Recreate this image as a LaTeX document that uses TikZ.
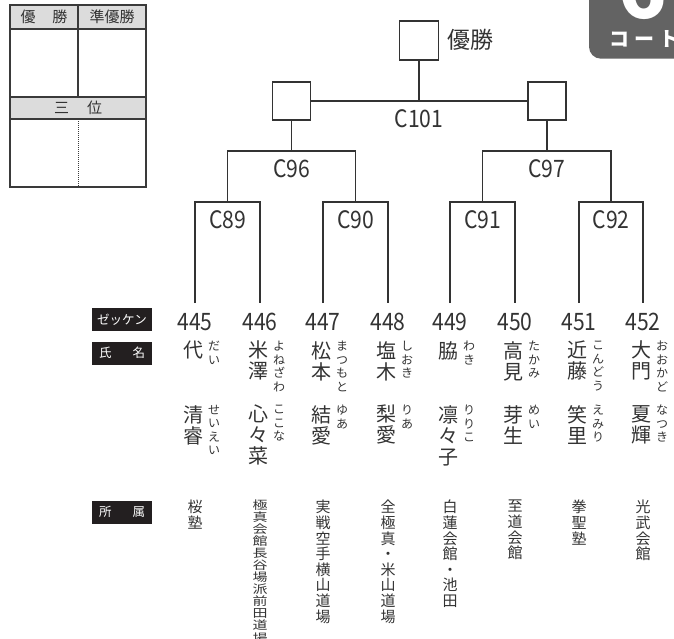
\documentclass[tikz,border=0pt]{standalone}
\usepackage{fontspec}
\setmainfont{Noto Sans CJK JP}
\usepackage{xcolor}
\usetikzlibrary{positioning}
\definecolor{ink}{HTML}{333333}
\definecolor{frame}{HTML}{3A3A3A}
\definecolor{headgray}{HTML}{DCDCDC}
\definecolor{badgegray}{HTML}{636363}
\definecolor{tagblack}{HTML}{231F20}

\begin{document}
\begin{tikzpicture}[x=1pt, y=-1pt,
  line/.style={ink, line width=1.8},
  matchbox/.style={draw=ink, line width=1.8, minimum size=38, inner sep=0},
  code/.style={text=ink, inner sep=0, xscale=0.88, font=\fontsize{24}{24}\selectfont},
  kanji/.style={text=ink, inner sep=0, align=center, anchor=north, font=\fontsize{20}{21}\selectfont},
  yomi/.style={text=ink, inner sep=0, align=center, anchor=north west, font=\fontsize{12}{13.5}\selectfont},
  club/.style={text=ink, inner sep=0, align=center, anchor=north, font=\fontsize{15}{15.6}\selectfont},
  tag/.style={fill=tagblack, text=white, inner sep=0, minimum width=60, minimum height=23, font=\fontsize{12.5}{12.5}\selectfont},
  cell/.style={text=ink, inner sep=0, font=\fontsize{15}{15}\selectfont}]

\useasboundingbox (0,0) rectangle (674,638);
\clip (0,0) rectangle (674,638);

% result table
\fill[headgray] (10,5) rectangle (146,29);
\fill[headgray] (10,97) rectangle (146,119);
\draw[frame, line width=1.4] (10,5) rectangle (146,187);
\draw[frame, line width=1.4] (10,29) -- (146,29);
\draw[frame, line width=1.4] (10,97) -- (146,97);
\draw[frame, line width=1.4] (10,119) -- (146,119);
\draw[frame, line width=1.4] (78,5) -- (78,97);
\draw[frame, line width=1, densely dotted] (78,119) -- (78,187);
\node[cell] (first) at (44,17) {優\hspace{17pt}勝};
\node[cell] (second) at (112,17) {準優勝};
\node[cell] (third) at (78,108) {三\hspace{18pt}位};

% court badge
\fill[badgegray, rounded corners=12] (589,-30) rectangle (700,58.7);
\node[text=white, inner sep=0, anchor=base, font=\bfseries\fontsize{80}{80}\selectfont] (courtno) at (643,18) {6};
\node[text=white, inner sep=0, anchor=west, font=\bfseries\fontsize{20}{20}\selectfont] (court) at (609,39) {コ\hspace{5pt}ー\hspace{5pt}ト};

% row labels
\node[tag] (tagnum) at (122,319.5) {ゼッケン};
\node[tag] (tagname) at (122,353) {氏\hspace{21pt}名};
\node[tag] (tagclub) at (122,512) {所\hspace{21pt}属};

% players
\foreach \x/\num/\sei/\seiyomi/\mei/\meiyomi/\club/\cs in {
  195/445/{代}/{だ\\い}/{清\\睿}/{せ\\い\\え\\い}/{桜\\塾}/1,
  260/446/{米\\澤}/{よ\\ね\\ざ\\わ}/{心\\々\\菜}/{こ\\こ\\な}/{極\\真\\会\\館\\長\\谷\\場\\派\\前\\田\\道\\場}/0.77,
  323/447/{松\\本}/{ま\\つ\\も\\と}/{結\\愛}/{ゆ\\あ}/{実\\戦\\空\\手\\横\\山\\道\\場}/1,
  388/448/{塩\\木}/{し\\お\\き}/{梨\\愛}/{り\\あ}/{全\\極\\真\\・\\米\\山\\道\\場}/1,
  450/449/{脇}/{わ\\き}/{凛\\々\\子}/{り\\り\\こ}/{白\\蓮\\会\\館\\・\\池\\田}/1,
  515/450/{高\\見}/{た\\か\\み}/{芽\\生}/{め\\い}/{至\\道\\会\\館}/1,
  579/451/{近\\藤}/{こ\\ん\\ど\\う}/{笑\\里}/{え\\み\\り}/{拳\\聖\\塾}/1,
  643/452/{大\\門}/{お\\お\\か\\ど}/{夏\\輝}/{な\\つ\\き}/{光\\武\\会\\館}/1}
{
  \coordinate (b\num) at (\x,303);
  \node[code] (n\num) at (\x,321.7) {\num};
  \node[kanji] (s\num) at (\x-2,341) {\sei};
  \node[yomi] (sy\num) at (\x+13,341) {\seiyomi};
  \node[kanji] (g\num) at (\x-2,405) {\mei};
  \node[yomi] (gy\num) at (\x+13,405) {\meiyomi};
  \node[club, yscale=\cs] (c\num) at (\x,500) {\club};
}

% bracket
\coordinate (t89) at (227.5,202);
\coordinate (t90) at (355.5,202);
\coordinate (t91) at (482.5,202);
\coordinate (t92) at (611,202);
\coordinate (c96) at (291.5,151);
\coordinate (c97) at (546.75,151);
\coordinate (c101) at (419,101);

\node[matchbox, minimum size=39] (final) at (419,40.5) {};
\node[text=ink, inner sep=0, anchor=west, font=\fontsize{23}{23}\selectfont] (champ) at (447,40) {優勝};
\node[matchbox] (semiL) at (291.5,101) {};
\node[matchbox] (semiR) at (546.75,101) {};

\foreach \a/\b/\m in {445/446/89, 447/448/90, 449/450/91, 451/452/92}
  \draw[line] (b\a) |- (t\m) -| (b\b);

\draw[line] (t89) |- (c96) -| (t90);
\draw[line] (t91) |- (c97) -| (t92);
\draw[line] (c96) -- (semiL);
\draw[line] (c97) -- (semiR);
\draw[line] (semiL) -- (semiR);
\draw[line] (final) -- (c101);

\node[code] (l89) at (227.5,219.5) {C89};
\node[code] (l90) at (355.5,219.5) {C90};
\node[code] (l91) at (482.5,219.5) {C91};
\node[code] (l92) at (611,219.5) {C92};
\node[code] (l96) at (291.5,169) {C96};
\node[code] (l97) at (546.75,169) {C97};
\node[code] (l101) at (419,118.5) {C101};

\end{tikzpicture}
\end{document}
